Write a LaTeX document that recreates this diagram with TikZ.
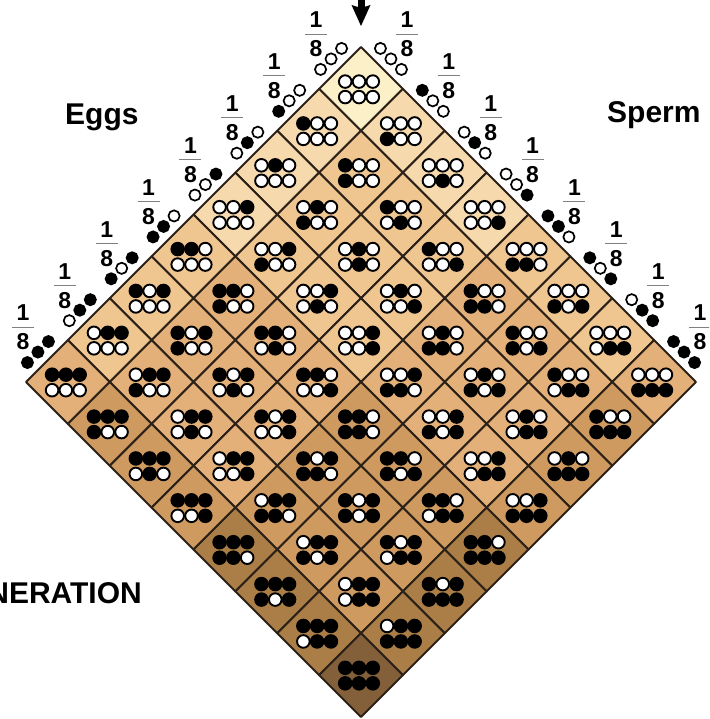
\documentclass[tikz,border=0pt]{standalone}
\usepackage{fontspec}
\setmainfont{Liberation Sans}
\usepackage{tikz}
\usetikzlibrary{calc,arrows.meta}
\usepackage{xcolor}
\definecolor{tone0}{HTML}{FCF0C8}
\definecolor{tone1}{HTML}{F7D9AE}
\definecolor{tone2}{HTML}{EFC590}
\definecolor{tone3}{HTML}{E4B079}
\definecolor{tone4}{HTML}{CF9A60}
\definecolor{tone5}{HTML}{AB7E47}
\definecolor{tone6}{HTML}{83603A}
\definecolor{allele0}{HTML}{FFFFFF}
\definecolor{allele1}{HTML}{000000}
\definecolor{gridline}{HTML}{2B2118}

\begin{document}
\begin{tikzpicture}[x=1pt, y=-1pt,
  cellbox/.style={draw=gridline, line width=2pt, line join=round},
  allele/.style={draw=black, line width=1.9pt},
  gamete/.style={draw=black, line width=1.7pt},
  fracnum/.style={font=\bfseries\fontsize{23}{23}\selectfont, inner sep=0pt},
  title/.style={font=\bfseries\fontsize{30}{30}\selectfont, inner sep=0pt}]
  \useasboundingbox (0,0) rectangle (709,719);
  \clip (0,0) rectangle (709,719);

  % Size of one cell (half diagonal)
  \pgfmathsetmacro{\cell}{41.875}
  \coordinate (apex) at (361,47);

  % Arrow coming down from the parents
  \coordinate (arrowtail) at (361,-20);
  \coordinate (arrowtip) at (361,26);
  \draw[line width=7pt] (arrowtail) -- ($(arrowtip)+(0,-15)$);
  \fill (arrowtip) -- ++(-9.5,-21) -- ++(9.5,3) -- ++(9.5,-3) -- cycle;

  % Punnett square cells: top row = egg, bottom row = sperm
  \foreach \i/\ea/\eb/\ec in {0/0/0/0, 1/1/0/0, 2/0/1/0, 3/0/0/1, 4/1/1/0, 5/1/0/1, 6/0/1/1, 7/1/1/1} {
    \foreach \j/\sa/\sb/\sc in {0/0/0/0, 1/1/0/0, 2/0/1/0, 3/0/0/1, 4/1/1/0, 5/1/0/1, 6/0/1/1, 7/1/1/1} {
      \pgfmathtruncatemacro{\n}{\ea+\eb+\ec+\sa+\sb+\sc}
      \coordinate (c-\i-\j) at ({361+(\j-\i)*\cell}, {47+(\i+\j+1)*\cell});
      \filldraw[cellbox, fill=tone\n] ($(c-\i-\j)+(0,-\cell)$) -- ($(c-\i-\j)+(\cell,0)$)
        -- ($(c-\i-\j)+(0,\cell)$) -- ($(c-\i-\j)+(-\cell,0)$) -- cycle;
      \foreach \a [count=\k from -1] in {\ea,\eb,\ec}
        \filldraw[allele, fill=allele\a] ($(c-\i-\j)+(\k*13.8-2,-7.3)$) circle (6.3pt);
      \foreach \a [count=\k from -1] in {\sa,\sb,\sc}
        \filldraw[allele, fill=allele\a] ($(c-\i-\j)+(\k*13.8-2,8.2)$) circle (6.3pt);
    }
  }

  % Eggs along the upper left edge
  \foreach \i/\ea/\eb/\ec in {0/0/0/0, 1/1/0/0, 2/0/1/0, 3/0/0/1, 4/1/1/0, 5/1/0/1, 6/0/1/1, 7/1/1/1} {
    \coordinate (egg\i) at ({361-(\i+0.5)*\cell-9}, {47+(\i+0.5)*\cell-9});
    \foreach \a [count=\k from -1] in {\ea,\eb,\ec}
      \filldraw[gamete, fill=allele\a] ($(egg\i)+(\k*10.5,-\k*10.5)$) circle (5.6pt);
    \coordinate (ebar\i) at ($(egg\i)+(-15,-25)$);
    \draw[gray, line width=0.8pt] ($(ebar\i)+(-11,0)$) -- ($(ebar\i)+(11,0)$);
    \node[fracnum] (eone\i) at ($(ebar\i)+(0,-14)$) {1};
    \node[fracnum] (eeight\i) at ($(ebar\i)+(0,15)$) {8};
  }

  % Sperm along the upper right edge
  \foreach \j/\sa/\sb/\sc in {0/0/0/0, 1/1/0/0, 2/0/1/0, 3/0/0/1, 4/1/1/0, 5/1/0/1, 6/0/1/1, 7/1/1/1} {
    \coordinate (sperm\j) at ({361+(\j+0.5)*\cell+9}, {47+(\j+0.5)*\cell-9});
    \foreach \a [count=\k from -1] in {\sa,\sb,\sc}
      \filldraw[gamete, fill=allele\a] ($(sperm\j)+(\k*10.5,\k*10.5)$) circle (5.6pt);
    \coordinate (sbar\j) at ($(sperm\j)+(16,-25)$);
    \draw[gray, line width=0.8pt] ($(sbar\j)+(-11,0)$) -- ($(sbar\j)+(11,0)$);
    \node[fracnum] (sone\j) at ($(sbar\j)+(0,-14)$) {1};
    \node[fracnum] (seight\j) at ($(sbar\j)+(0,15)$) {8};
  }

  % Labels
  \node[title, anchor=base west] (eggs) at (65,125) {Eggs};
  \node[title, anchor=base west] (sperm) at (607,123) {Sperm};
  \node[title, anchor=base east] (gen) at (142,603) {GENERATION};
\end{tikzpicture}
\end{document}
